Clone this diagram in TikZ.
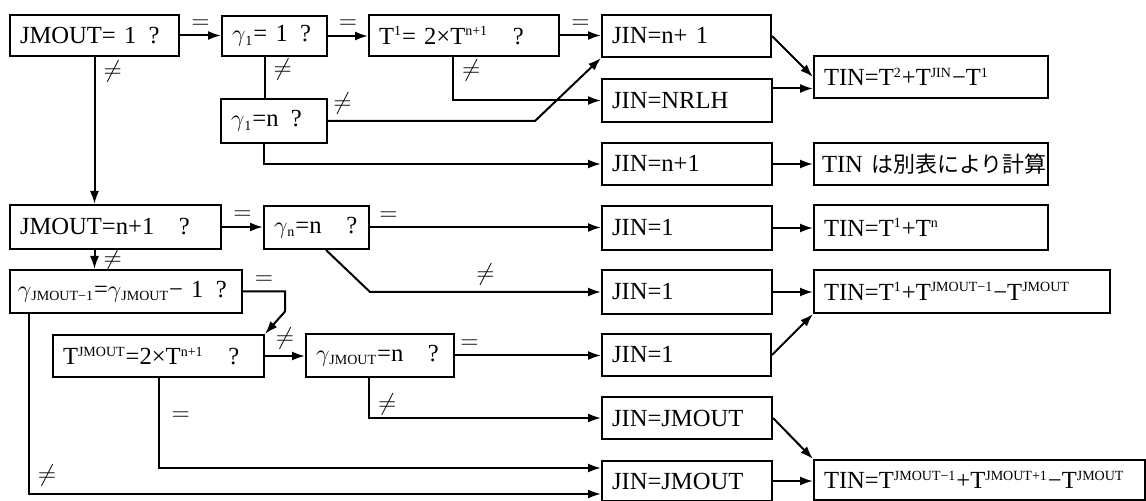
\documentclass[tikz,border=0pt]{standalone}
\usepackage{fontspec}
\setmainfont{Liberation Serif}
\newfontfamily\cjk{Noto Sans CJK JP}
\usetikzlibrary{arrows.meta,positioning,calc}
\newcommand{\bxfont}{\fontsize{12.3}{14}\selectfont}
\newcommand{\smidx}{\fontsize{7}{8}\selectfont}
\newcommand{\Tu}[1]{T\textsuperscript{\smidx #1}}
\newcommand{\gam}[1]{$\gamma$\textsubscript{\smidx #1}}
\tikzset{
  blk/.style={draw, line width=1pt, anchor=north west, inner xsep=5pt,
    inner ysep=0pt, align=left, font=\bxfont},
  lbl/.style={inner sep=1pt, font=\bxfont},
  flow/.style={-{Latex[length=6.5pt,width=4.5pt]}, line width=1pt},
  wire/.style={line width=1pt}
}

\begin{document}
\begin{tikzpicture}[x=0.5pt, y=-0.5pt]
  \fill[white] (0,0) rectangle (1146,501);
  \useasboundingbox (0,0) rectangle (1146,501);

  % tests
  \node[blk, text width=74.5pt, minimum height=20.5pt] (q1) at (9,14) {JMOUT=~1\enspace?};
  \node[blk, text width=42.5pt, minimum height=20pt] (g1) at (221,15) {\gam{1}=~1\enspace?};
  \node[blk, text width=85pt, minimum height=20.5pt] (t1) at (368,14) {\Tu{1}=~2×\Tu{n+1}\quad?};
  \node[blk, text width=43pt, minimum height=22pt] (gn1) at (220,98) {\gam{1}=n\enspace?};
  \node[blk, text width=95.5pt, minimum height=22pt] (q2) at (9,204) {JMOUT=n+1\quad?};
  \node[blk, text width=42.5pt, minimum height=21.5pt] (gn) at (263,205) {\gam{n}=n\quad?};
  \node[blk, inner xsep=4pt, text width=108pt, minimum height=21.5pt] (qg) at (9,269) {\gam{JMOUT−1}=\gam{JMOUT}−~1\enspace?};
  \node[blk, text width=95.5pt, minimum height=21pt] (qt) at (52,334) {\Tu{JMOUT}=2×\Tu{n+1}\quad?};
  \node[blk, text width=64pt, minimum height=21.5pt] (gj) at (305,333) {\gam{JMOUT}=n\quad?};

  % JIN settings
  \node[blk, text width=74.5pt, minimum height=21pt] (j1) at (601,14) {JIN=n+~1};
  \node[blk, text width=75pt, minimum height=21.5pt] (j2) at (601,78) {JIN=NRLH};
  \node[blk, text width=75pt, minimum height=21pt] (j3) at (601,142) {JIN=n+1};
  \node[blk, text width=75pt, minimum height=22pt] (j4) at (601,205) {JIN=1};
  \node[blk, text width=75pt, minimum height=22pt] (j5) at (601,269) {JIN=1};
  \node[blk, text width=74.5pt, minimum height=21pt] (j6) at (601,333) {JIN=1};
  \node[blk, text width=75pt, minimum height=21pt] (j7) at (601,396) {JIN=JMOUT};
  \node[blk, text width=75pt, minimum height=20pt] (j8) at (601,460) {JIN=JMOUT};

  % TIN results
  \node[blk, text width=107pt, minimum height=21pt] (tin1) at (813,55) {TIN=\Tu{2}+\Tu{JIN}−\Tu{1}};
  \node[blk, inner xsep=4pt, text width=109pt, minimum height=21pt] (tin2) at (813,142) {TIN~{\cjk\fontsize{11}{13}\selectfont は別表により計算}};
  \node[blk, text width=107pt, minimum height=22.5pt] (tin3) at (813,204) {TIN=\Tu{1}+\Tu{n}};
  \node[blk, text width=138pt, minimum height=21.5pt] (tin4) at (813,269) {TIN=\Tu{1}+\Tu{JMOUT−1}−\Tu{JMOUT}};
  \node[blk, text width=155.5pt, minimum height=20pt] (tin5) at (813,459) {TIN=\Tu{JMOUT−1}+\Tu{JMOUT+1}−\Tu{JMOUT}};

  % JMOUT=1 branch
  \draw[flow] (q1.east) -- node[lbl, above=2pt]{$=$} (q1.east -| g1.west);
  \draw[flow] (g1.east) -- node[lbl, above=2pt]{$=$} (g1.east -| t1.west);
  \draw[flow] (t1.east) -- node[lbl, above=2pt]{$=$} (t1.east -| j1.west);
  \draw[flow] (q1.south) -- node[lbl, right=3pt, pos=.1]{$\neq$} (q1.south |- q2.north);
  \draw[wire] ([xshift=-5pt]g1.south) -- node[lbl, right=3pt, pos=.3]{$\neq$} ([xshift=-5pt]g1.south |- gn1.north);
  \draw[flow] (gn1.east) -- node[lbl, above=2pt, pos=.07]{$\neq$} ++(207,0) -- (j1.south west);
  \draw[flow] ([xshift=-5pt]gn1.south) |- (j3.west);
  \draw[flow] ([xshift=-5.5pt]t1.south) |- node[lbl, right=3pt, pos=.15]{$\neq$} (j2.west);
  \draw[flow] (j1.east) -- (tin1.west);
  \draw[flow] ([yshift=6pt]j2.east) -- ([yshift=6pt]j2.east -| tin1.west);
  \draw[flow] (j3.east) -- (tin2.west);

  % JMOUT=n+1 branch
  \draw[flow] (q2.east) -- node[lbl, above=2pt]{$=$} (q2.east -| gn.west);
  \draw[flow] (gn.east) -- node[lbl, above=2pt, pos=.08]{$=$} (gn.east -| j4.west);
  \draw[flow] ([xshift=4.75pt]gn.south) -- (gn.south east |- j5.west) -- node[lbl, above=2pt]{$\neq$} (j5.west);
  \draw[flow] (j4.east) -- (j4.east -| tin3.west);
  \draw[flow] (q1.south |- q2.south) -- node[lbl, right=3pt]{$\neq$} (q1.south |- qg.north);
  \draw[flow] (qg.east) -- node[lbl, above=2pt]{$=$} ++(42,0) -- ++(0,20) -- (qt.north east);
  \draw[flow] ([xshift=10pt]qg.south west) |- node[lbl, right=3pt, pos=.45]{$\neq$} ([yshift=-6.5pt]j8.west);
  \draw[flow] (j5.east) -- (j5.east -| tin4.west);

  % other JMOUT
  \draw[flow] (qt.east) -- node[lbl, above=2pt]{$\neq$} (qt.east -| gj.west);
  \draw[flow] (qt.south) |- node[lbl, right=5pt, pos=.21]{$=$} ([yshift=6.5pt]j8.west);
  \draw[flow] (gj.east) -- node[lbl, above=2pt, pos=.1]{$=$} (gj.east -| j6.west);
  \draw[flow] ([xshift=-5.5pt]gj.south) |- node[lbl, right=3pt, pos=.33]{$\neq$} (j7.west);
  \draw[flow] (j6.east) -- (tin4.south west);
  \draw[flow] (j7.east) -- (tin5.north west);
  \draw[flow] (j8.east) -- (j8.east -| tin5.west);
\end{tikzpicture}
\end{document}
